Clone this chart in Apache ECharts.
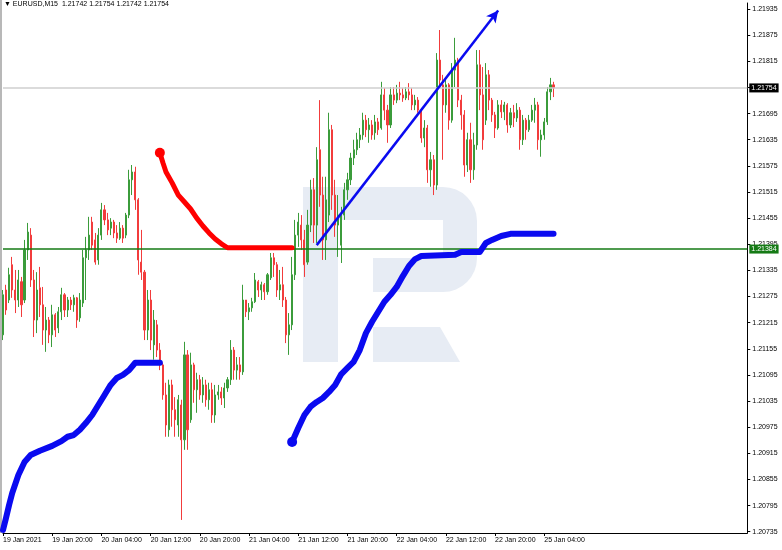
<!DOCTYPE html>
<html><head><meta charset="utf-8">
<script src="https://cdn.jsdelivr.net/npm/echarts@6/dist/echarts.min.js"></script>
<style>html,body{margin:0;padding:0;background:#fff}#c{width:782px;height:550px}</style>
</head><body><div id="c"></div>
<script>
// ---- data (EURUSD, 30-minute candles) ----
const tickLabels = ['19 Jan 2021','19 Jan 20:00','20 Jan 04:00','20 Jan 12:00','20 Jan 20:00','21 Jan 04:00','21 Jan 12:00','21 Jan 20:00','22 Jan 04:00','22 Jan 12:00','22 Jan 20:00','25 Jan 04:00'];
const yTicks = [1.20735,1.20795,1.20855,1.20915,1.20975,1.21035,1.21095,1.21155,1.21215,1.21275,1.21335,1.21395,1.21455,1.21515,1.21575,1.21635,1.21695,1.21755,1.21815,1.21875,1.21935];
const header = 'EURUSD,M15  1.21742 1.21754 1.21742 1.21754';
const bidPrice = 1.21754;
const levelPrice = 1.21384;

const opens = [
1.21187,1.21290,1.21267,1.21348,1.21290,1.21267,1.21309,1.21267,1.21382,1.21416,
1.21313,1.21221,1.21295,1.21256,1.21198,1.21221,1.21187,1.21233,1.21203,1.21240,
1.21279,1.21244,1.21267,1.21256,1.21272,1.21226,1.21260,1.21364,1.21382,1.21446,
1.21405,1.21359,1.21416,1.21474,1.21451,1.21432,1.21446,1.21421,1.21409,1.21432,
1.21416,1.21462,1.21543,1.21561,1.21497,1.21354,1.21331,1.21198,1.21267,1.21164,
1.21210,1.21152,1.21118,1.21049,1.20969,1.21072,1.21015,1.20980,1.21026,1.20946,
1.21141,1.20992,1.21118,1.21061,1.21084,1.21049,1.21072,1.21038,1.21061,1.21003,
1.21049,1.21056,1.21042,1.21065,1.21084,1.21152,1.21106,1.21118,1.21102,1.21267,
1.21240,1.21249,1.21263,1.21309,1.21290,1.21302,1.21286,1.21318,1.21364,1.21348,
1.21290,1.21302,1.21267,1.21187,1.21210,1.21325,1.21416,1.21439,1.21405,1.21354,
1.21439,1.21520,1.21439,1.21612,1.21508,1.21405,1.21462,1.21658,1.21508,1.21439,
1.21393,1.21462,1.21520,1.21543,1.21593,1.21612,1.21635,1.21646,1.21680,1.21658,
1.21669,1.21651,1.21676,1.21662,1.21738,1.21703,1.21669,1.21738,1.21726,1.21742,
1.21738,1.21731,1.21745,1.21738,1.21715,1.21726,1.21703,1.21639,1.21662,1.21566,
1.21589,1.21531,1.21818,1.21761,1.21715,1.21761,1.21680,1.21795,1.21818,1.21726,
1.21692,1.21577,1.21635,1.21566,1.21623,1.21807,1.21738,1.21680,1.21784,1.21726,
1.21692,1.21662,1.21715,1.21699,1.21715,1.21669,1.21697,1.21685,1.21703,1.21635,
1.21680,1.21658,1.21680,1.21703,1.21715,1.21635,1.21646,1.21676,1.21745,1.21761];
const closes = [
1.21279,1.21244,1.21325,1.21290,1.21267,1.21313,1.21256,1.21382,1.21423,1.21313,
1.21221,1.21290,1.21256,1.21198,1.21221,1.21187,1.21233,1.21198,1.21240,1.21279,
1.21244,1.21267,1.21256,1.21272,1.21221,1.21267,1.21364,1.21382,1.21416,1.21393,
1.21354,1.21416,1.21474,1.21451,1.21428,1.21446,1.21421,1.21409,1.21432,1.21409,
1.21462,1.21543,1.21561,1.21497,1.21359,1.21331,1.21198,1.21267,1.21175,1.21221,
1.21152,1.21118,1.21049,1.20980,1.21072,1.21015,1.20992,1.21038,1.20946,1.21141,
1.20969,1.21118,1.21061,1.21084,1.21049,1.21072,1.21038,1.21061,1.21003,1.21049,
1.21056,1.21042,1.21065,1.21084,1.21152,1.21106,1.21118,1.21102,1.21267,1.21240,
1.21249,1.21263,1.21313,1.21290,1.21302,1.21286,1.21325,1.21364,1.21348,1.21290,
1.21302,1.21267,1.21187,1.21210,1.21325,1.21416,1.21446,1.21405,1.21348,1.21439,
1.21520,1.21439,1.21589,1.21508,1.21405,1.21497,1.21658,1.21508,1.21439,1.21462,
1.21462,1.21520,1.21543,1.21593,1.21612,1.21635,1.21646,1.21680,1.21658,1.21669,
1.21646,1.21676,1.21658,1.21738,1.21703,1.21669,1.21738,1.21726,1.21742,1.21738,
1.21731,1.21745,1.21738,1.21715,1.21726,1.21703,1.21639,1.21662,1.21566,1.21589,
1.21531,1.21818,1.21772,1.21715,1.21761,1.21680,1.21795,1.21818,1.21726,1.21692,
1.21577,1.21635,1.21566,1.21623,1.21807,1.21738,1.21635,1.21784,1.21726,1.21692,
1.21662,1.21715,1.21699,1.21715,1.21669,1.21697,1.21685,1.21703,1.21635,1.21680,
1.21658,1.21680,1.21703,1.21715,1.21635,1.21646,1.21676,1.21745,1.21761,1.21754];
const highs = [
1.21290,1.21302,1.21341,1.21366,1.21336,1.21336,1.21320,1.21405,1.21444,1.21432,
1.21336,1.21331,1.21343,1.21297,1.21251,1.21228,1.21256,1.21237,1.21251,1.21295,
1.21283,1.21274,1.21274,1.21279,1.21274,1.21283,1.21382,1.21412,1.21458,1.21458,
1.21421,1.21432,1.21490,1.21485,1.21467,1.21455,1.21451,1.21439,1.21446,1.21439,
1.21467,1.21566,1.21577,1.21573,1.21501,1.21428,1.21336,1.21290,1.21290,1.21244,
1.21221,1.21168,1.21123,1.21077,1.21084,1.21084,1.21044,1.21049,1.21038,1.21171,
1.21152,1.21146,1.21123,1.21100,1.21095,1.21090,1.21084,1.21077,1.21077,1.21072,
1.21072,1.21067,1.21077,1.21090,1.21175,1.21159,1.21136,1.21136,1.21302,1.21267,
1.21260,1.21272,1.21329,1.21313,1.21309,1.21306,1.21329,1.21375,1.21375,1.21354,
1.21336,1.21343,1.21274,1.21237,1.21366,1.21451,1.21467,1.21462,1.21428,1.21474,
1.21543,1.21547,1.21618,1.21726,1.21550,1.21550,1.21697,1.21669,1.21543,1.21508,
1.21481,1.21536,1.21559,1.21605,1.21635,1.21651,1.21662,1.21697,1.21692,1.21685,
1.21680,1.21692,1.21685,1.21768,1.21754,1.21715,1.21756,1.21756,1.21761,1.21768,
1.21754,1.21756,1.21765,1.21754,1.21738,1.21733,1.21708,1.21680,1.21669,1.21607,
1.21600,1.21834,1.21887,1.21784,1.21777,1.21765,1.21811,1.21869,1.21823,1.21738,
1.21703,1.21651,1.21674,1.21651,1.21841,1.21841,1.21802,1.21811,1.21795,1.21731,
1.21699,1.21726,1.21726,1.21722,1.21719,1.21708,1.21715,1.21719,1.21710,1.21692,
1.21685,1.21692,1.21715,1.21731,1.21722,1.21658,1.21685,1.21756,1.21777,1.21768];
const lows = [
1.21175,1.21233,1.21260,1.21272,1.21237,1.21251,1.21228,1.21260,1.21359,1.21297,
1.21182,1.21191,1.21228,1.21164,1.21148,1.21168,1.21159,1.21182,1.21191,1.21221,
1.21228,1.21228,1.21244,1.21240,1.21203,1.21217,1.21251,1.21267,1.21359,1.21382,
1.21348,1.21348,1.21405,1.21439,1.21416,1.21416,1.21409,1.21398,1.21405,1.21398,
1.21409,1.21455,1.21508,1.21474,1.21325,1.21313,1.21175,1.21175,1.21152,1.21130,
1.21136,1.21106,1.21038,1.20953,1.20953,1.20976,1.20953,1.20953,1.20762,1.20923,
1.20923,1.20985,1.21031,1.21008,1.21038,1.21031,1.21022,1.21015,1.20985,1.20985,
1.21038,1.21026,1.21019,1.21056,1.21072,1.21084,1.21084,1.21084,1.21095,1.21228,
1.21221,1.21240,1.21260,1.21274,1.21267,1.21267,1.21279,1.21313,1.21320,1.21274,
1.21267,1.21251,1.21168,1.21141,1.21198,1.21313,1.21389,1.21382,1.21320,1.21348,
1.21423,1.21398,1.21398,1.21481,1.21359,1.21359,1.21446,1.21474,1.21412,1.21366,
1.21352,1.21451,1.21497,1.21531,1.21577,1.21600,1.21616,1.21635,1.21641,1.21628,
1.21635,1.21635,1.21646,1.21658,1.21680,1.21628,1.21662,1.21715,1.21719,1.21726,
1.21722,1.21726,1.21726,1.21703,1.21703,1.21697,1.21628,1.21618,1.21536,1.21527,
1.21508,1.21520,1.21756,1.21589,1.21697,1.21658,1.21674,1.21756,1.21710,1.21658,
1.21550,1.21561,1.21536,1.21543,1.21612,1.21703,1.21612,1.21669,1.21703,1.21676,
1.21639,1.21658,1.21685,1.21680,1.21651,1.21662,1.21664,1.21676,1.21612,1.21623,
1.21635,1.21653,1.21676,1.21674,1.21612,1.21596,1.21635,1.21669,1.21726,1.21733];

// indicator dots: [bar index, price]
const redLine = [[51,1.21605],[52,1.21582],[53,1.21561],[55,1.21536],[57,1.21508],[59,1.21492],[61,1.21476],[63,1.21455],[65,1.21437],[67,1.21421],[69,1.21407],[71,1.21396],[73,1.21387],[94,1.21387]];
const blueLine1 = [[0,1.20739],[1,1.20767],[2,1.20797],[3,1.20824],[5,1.20865],[7,1.20895],[9,1.20911],[12,1.20921],[16,1.20932],[19,1.20943],[21,1.20953],[23,1.20957],[25,1.20969],[27,1.20985],[29,1.21003],[31,1.21026],[33,1.21049],[35,1.21072],[37,1.21088],[39,1.21095],[41,1.21106],[43,1.21123],[51,1.21123]];
const blueLine2 = [[94,1.20941],[96,1.20973],[98,1.21003],[100,1.21022],[102,1.21033],[104,1.21042],[106,1.21056],[108,1.21072],[110,1.21097],[112,1.21111],[114,1.21125],[116,1.21152],[118,1.21191],[120,1.21217],[122,1.21240],[124,1.21263],[126,1.21279],[128,1.21297],[130,1.21322],[132,1.21345],[134,1.21361],[136,1.21368],[147,1.21371],[149,1.21377],[155,1.21377],[157,1.21398],[159,1.21405],[162,1.21414],[165,1.21419],[179,1.21419]];
const arrowStart = [102, 1.21393];
const arrowEnd = [161, 1.21932];

// ---- chart ----
const NCAT = 243;
const cats = Array.from({length: NCAT}, (_, i) => String(i));
const candleData = opens.map((o, i) => [o, closes[i], lows[i], highs[i]]);
const showTick = (i) => i % 16 === 0 && i / 16 < tickLabels.length;
const FONT = 'Liberation Sans';
const UP = '#3b9c3b', DOWN = '#f23c3c', BLUE = '#0a0af0', GREEN = '#157a15';

function levelSeries(price, lineColor, boxColor, width) {
  return {
    type: 'line', z: 4, data: [],
    markLine: {
      silent: true, animation: false, symbol: ['none', 'none'],
      lineStyle: {color: lineColor, width: width, type: 'solid'},
      label: {show: true, position: 'end', formatter: price.toFixed(5), backgroundColor: boxColor,
        color: '#fff', fontSize: 7, fontFamily: FONT, padding: [1, 2], distance: 2},
      data: [[{coord: [0, price]}, {coord: [NCAT - 1, price]}]]
    }
  };
}

const chart = echarts.init(document.getElementById('c'), null, {renderer: 'canvas'});
chart.setOption({
  animation: false,
  backgroundColor: '#ffffff',
  textStyle: {fontFamily: FONT},
  grid: {left: 2.7, right: 34.7, top: 3, bottom: 17},
  graphic: {elements: [
    {type: 'rect', z: 0, shape: {x: 303, y: 187, width: 35, height: 175}, style: {fill: '#e7ecf4'}},
    {type: 'rect', z: 0, shape: {x: 303, y: 187, width: 174, height: 105, r: [0, 34, 34, 0]}, style: {fill: '#e7ecf4'}},
    {type: 'rect', z: 0, shape: {x: 338, y: 220, width: 105, height: 38}, style: {fill: '#ffffff'}},
    {type: 'rect', z: 0, shape: {x: 338, y: 258, width: 35, height: 35}, style: {fill: '#ffffff'}},
    {type: 'polygon', z: 0, shape: {points: [[373, 327], [440, 327], [460, 362], [373, 362]]}, style: {fill: '#e7ecf4'}},
    {type: 'line', z: 1, shape: {x1: 1, y1: 0, x2: 1, y2: 533}, style: {stroke: '#a0a0a0', lineWidth: 1.5}},
    {type: 'text', z: 10, left: 4, top: 1, style: {text: '\u25BC ' + header, font: '7px "Liberation Sans"', fill: '#000'}}
  ]},
  xAxis: {
    type: 'category', data: cats, boundaryGap: false,
    axisLine: {show: true, lineStyle: {color: '#000', width: 1}},
    axisTick: {show: true, interval: showTick, length: 3, lineStyle: {color: '#000'}},
    axisLabel: {interval: showTick, formatter: (v, i) => tickLabels[i / 16] || '', align: 'left',
      fontSize: 7, fontFamily: FONT, color: '#000', margin: 4},
    splitLine: {show: false}
  },
  yAxis: {
    type: 'value', position: 'right', min: 1.20732, max: 1.21949,
    axisLine: {show: true, lineStyle: {color: '#000'}},
    axisTick: {show: true, customValues: yTicks, length: 3, lineStyle: {color: '#000'}},
    axisLabel: {customValues: yTicks, formatter: v => v.toFixed(5), fontSize: 7, fontFamily: FONT, color: '#000', margin: 5},
    splitLine: {show: false}
  },
  series: [
    levelSeries(bidPrice, '#cfcfcf', '#000000', 1.5),
    levelSeries(levelPrice, GREEN, GREEN, 1.5),
    {
      type: 'candlestick', data: candleData, barWidth: 1.6, z: 3,
      itemStyle: {color: UP, color0: DOWN, borderColor: UP, borderColor0: DOWN, borderWidth: 1}
    },
    {
      type: 'line', z: 5, data: redLine.map((p, k) => k === 0 ? {value: p, symbol: 'circle', symbolSize: 10} : p),
      symbol: 'none', showAllSymbol: true, itemStyle: {color: '#ff0000'},
      lineStyle: {color: '#ff0000', width: 5, cap: 'round', join: 'round'}
    },
    {
      type: 'line', z: 5, data: blueLine1, symbol: 'none',
      lineStyle: {color: BLUE, width: 6, cap: 'round', join: 'round'}
    },
    {
      type: 'line', z: 5, data: blueLine2.map((p, k) => k === 0 ? {value: p, symbol: 'circle', symbolSize: 10} : p),
      symbol: 'none', showAllSymbol: true, itemStyle: {color: BLUE},
      lineStyle: {color: BLUE, width: 6, cap: 'round', join: 'round'}
    },
    {
      type: 'line', z: 6, data: [],
      markLine: {
        silent: true, animation: false, symbol: ['none', 'arrow'], symbolSize: [9, 12],
        lineStyle: {color: BLUE, width: 2.5, type: 'solid'}, label: {show: false},
        data: [[{coord: arrowStart}, {coord: arrowEnd}]]
      }
    }
  ]
});
</script></body></html>
